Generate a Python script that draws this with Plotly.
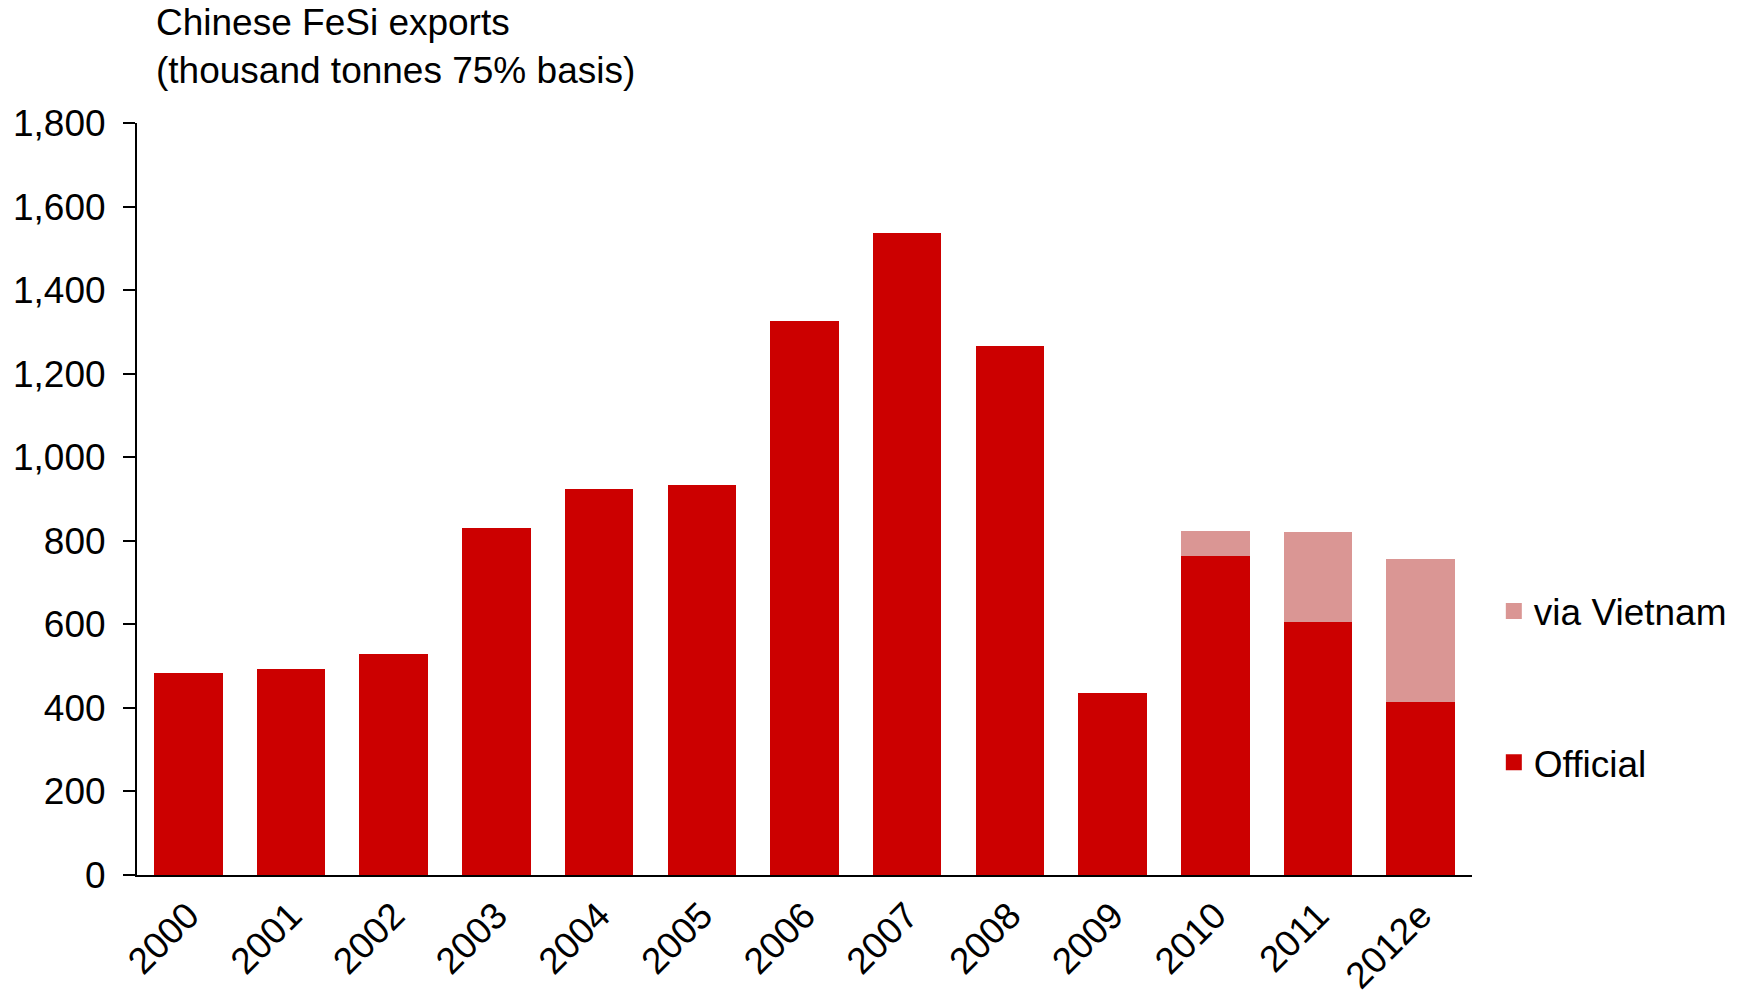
import plotly.graph_objects as go

# Chinese ferrosilicon exports, thousand tonnes (75% basis)
years = ["2000", "2001", "2002", "2003", "2004", "2005", "2006",
         "2007", "2008", "2009", "2010", "2011", "2012e"]
official = [483, 492, 529, 831, 923, 933, 1326, 1536, 1267, 436, 764, 606, 415]
via_vietnam = [0, 0, 0, 0, 0, 0, 0, 0, 0, 0, 60, 215, 341]

y_ticks = [0, 200, 400, 600, 800, 1000, 1200, 1400, 1600, 1800]

FONT = "Liberation Sans, Arial, Helvetica, sans-serif"
RED = "#CC0000"
PINK = "#DA9694"
FS = 37

series = [("Official", official, RED, 2), ("via Vietnam", via_vietnam, PINK, 1)]

fig = go.Figure()
for name, values, color, rank in series:
    fig.add_trace(go.Bar(
        x=years, y=values, name=name,
        marker=dict(color=color, line=dict(width=0)),
        showlegend=False,
    ))
# legend entries with larger square swatches
for name, values, color, rank in series:
    fig.add_trace(go.Scatter(
        x=[None], y=[None], mode="markers", name=name,
        marker=dict(symbol="square", size=16, color=color),
        legendgroup=name, legendrank=rank, showlegend=True,
    ))

fig.update_layout(
    width=1737, height=996,
    barmode="stack", bargap=0.333,
    plot_bgcolor="white", paper_bgcolor="white",
    margin=dict(l=137, r=265, t=123, b=121),
    font=dict(family=FONT, size=FS, color="black"),
    showlegend=True,
    legend=dict(
        xref="container", x=0.860, xanchor="left",
        y=0.25, yanchor="middle",
        traceorder="grouped", tracegroupgap=100,
        font=dict(size=FS), bgcolor="rgba(0,0,0,0)",
    ),
    annotations=[dict(
        text="Chinese FeSi exports<br>(thousand tonnes 75% basis)",
        xref="paper", yref="paper", x=0.0128, y=1.0, yshift=123,
        xanchor="left", yanchor="top", align="left", showarrow=False,
        font=dict(size=FS),
    )],
)

fig.update_xaxes(
    type="category", range=[-0.5, 12.5], automargin=False,
    showline=True, linecolor="black", linewidth=2,
    ticks="", tickangle=-45, showgrid=False, zeroline=False,
    ticklabelstandoff=2,
)
fig.update_yaxes(
    range=[0, 1800], tickvals=y_ticks, tickformat=",", automargin=False,
    showline=True, linecolor="black", linewidth=2,
    ticks="outside", ticklen=12, tickwidth=2, tickcolor="black",
    showgrid=False, zeroline=False, ticklabelstandoff=10,
)

fig.write_html("out.html")
